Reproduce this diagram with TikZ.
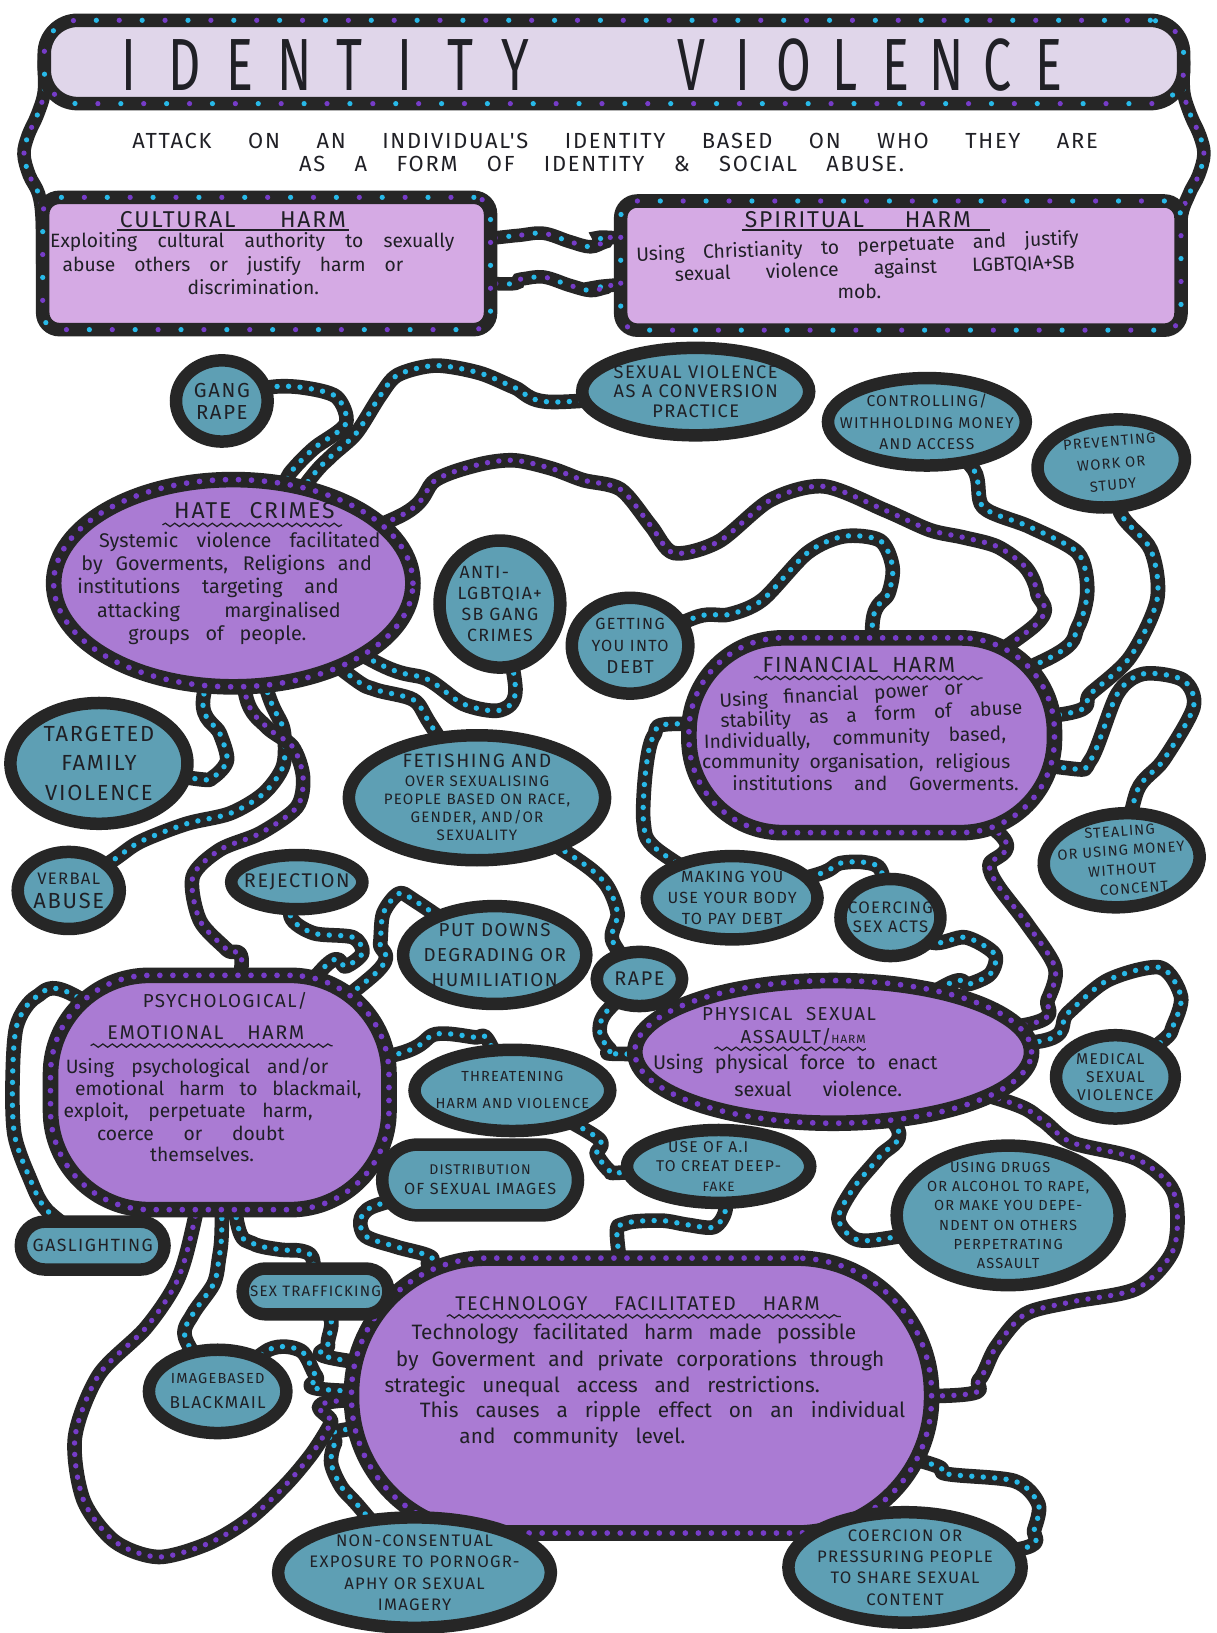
\documentclass[tikz,border=0pt]{standalone}
\usepackage{graphicx}
\usepackage{fontspec}
\setmainfont{Fira Sans}
\newfontfamily\capsf[LetterSpace=8]{Fira Sans}
\newfontfamily\tcapf{Fira Sans}
\newfontfamily\bodyf{Fira Sans}
\newfontfamily\subf[LetterSpace=8]{Fira Sans}
\usetikzlibrary{shapes.geometric,decorations.pathmorphing}
\pgfdeclarelayer{bg}
\pgfsetlayers{bg,main}
\definecolor{bfill}{RGB}{94,159,180}
\definecolor{pfill}{RGB}{170,123,211}
\definecolor{boxfill}{RGB}{213,170,228}
\definecolor{titlefill}{RGB}{224,214,234}
\definecolor{ink}{RGB}{38,38,38}
\definecolor{cdot}{RGB}{40,185,232}
\definecolor{pdot}{RGB}{118,60,200}
\definecolor{txt}{RGB}{32,32,38}
\newcounter{tlc}
\newcommand\bsz{16}
\newcommand\bodyln[5][0]{\stepcounter{tlc}\node[bline, rotate=#1] (bl\thetlc) at (#2,#3) {\makebox[#4pt][s]{#5}};}
\tikzset{
  cconn/.style={draw=ink, line width=14pt, line cap=round, line join=round,
    postaction={draw=cdot, line width=5.2pt, line cap=round, dash pattern=on 0pt off 11pt}},
  pconn/.style={draw=ink, line width=14pt, line cap=round, line join=round,
    postaction={draw=pdot, line width=5.2pt, line cap=round, dash pattern=on 0pt off 11pt}},
  mconn/.style={draw=ink, line width=13pt, line cap=round,
    postaction={draw=cdot, line width=5pt, line cap=round, dash pattern=on 0pt off 26pt},
    postaction={draw=pdot, line width=5pt, line cap=round, dash pattern=on 0pt off 26pt, dash phase=13pt}},
  mbox/.style={draw=ink, line width=13pt, inner sep=0pt,
    postaction={draw=cdot, line width=5pt, line cap=round, dash pattern=on 0pt off 44pt},
    postaction={draw=pdot, line width=5pt, line cap=round, dash pattern=on 0pt off 44pt, dash phase=22pt}},
  bnode/.style={draw=ink, line width=12pt, fill=bfill, inner sep=-80pt, align=center, text=txt},
  bell/.style={bnode, ellipse},
  brr/.style={bnode, rectangle},
  pnode/.style={draw=ink, line width=15pt, fill=pfill, inner sep=0pt,
    postaction={draw=pdot, line width=5.5pt, line cap=round, dash pattern=on 0pt off 12.5pt}},
  sz/.style 2 args={font=\capsf\fontsize{#1}{#2}\selectfont},
  wavy/.style={draw=txt, line width=1.2pt, decorate, decoration={snake, amplitude=1.6pt, segment length=9pt}},
  bline/.style={anchor=base west, inner sep=0pt, text=txt, font=\bodyf\fontsize{\bsz}{\bsz}\selectfont},
  tline/.style={anchor=base west, inner sep=0pt, text=txt, font=\capsf\fontsize{#1}{#1}\selectfont},
  ttl/.style={inner sep=0pt, text=txt, font=\tcapf\fontsize{71}{71}\selectfont},
}
\begin{document}
\begin{tikzpicture}[x=1pt,y=-1pt]
\useasboundingbox (0,0) rectangle (1168,1568);

% ---------- top boxes ----------
\node[mbox, fill=titlefill, rounded corners=32pt, minimum width=1094pt, minimum height=80pt] (title) at (589.5,59.5) {};
\node[mbox, fill=boxfill, rounded corners=16pt, minimum width=430pt, minimum height=127pt] (cult) at (256,253) {};
\node[mbox, fill=boxfill, rounded corners=16pt, minimum width=538pt, minimum height=124pt] (spirit) at (865,255) {};

\foreach \ch [count=\i from 0] in {I,D,E,N,T,I,T,Y}
  \node[ttl] (tA\i) at ({124+\i*53},62) {\scalebox{0.68}[1]{\ch}};
\foreach \ch [count=\i from 0] in {V,I,O,L,E,N,C,E}
  \node[ttl] (tB\i) at ({664+\i*49},62) {\scalebox{0.68}[1]{\ch}};

\node[anchor=base west, inner sep=0pt, text=txt, font=\subf\fontsize{21}{21}\selectfont] (sub1) at (127,143)
  {\makebox[927pt][s]{ATTACK ON AN INDIVIDUAL'S IDENTITY BASED ON WHO THEY ARE}};
\node[anchor=base west, inner sep=0pt, text=txt, font=\subf\fontsize{21}{21}\selectfont] (sub2) at (287,165)
  {\makebox[581pt][s]{AS A FORM OF IDENTITY \& SOCIAL ABUSE.}};

\node[tline=22] (ctit) at (115,218) {\makebox[217pt][s]{CULTURAL HARM}};
\draw[line width=1.3pt, draw=txt] ([yshift=-3pt,xshift=-3pt]ctit.base west) -- ([yshift=-3pt,xshift=3pt]ctit.base east);
\node[tline=22] (stit) at (715,218) {\makebox[217pt][s]{SPIRITUAL HARM}};
\draw[line width=1.3pt, draw=txt] ([yshift=-3pt,xshift=-3pt]stit.base west) -- ([yshift=-3pt,xshift=18pt]stit.base east);
\renewcommand\bsz{18.5}
\bodyln{48}{238}{388}{Exploiting cultural authority to sexually}
\bodyln{60}{261}{327}{abuse others or justify harm or}
\bodyln{180}{283}{125}{discrimination.}
\bodyln[2.2]{611}{251}{425}{Using Christianity to perpetuate and justify}
\bodyln[1.8]{648}{270}{384}{sexual violence against LGBTQIA+SB}
\bodyln{804}{287}{40}{mob.}

% ---------- purple nodes ----------
\node[pnode, ellipse, minimum width=345pt, minimum height=199pt] (hate) at (224,560) {};
\node[pnode, rectangle, rounded corners=90pt, minimum width=351pt, minimum height=187pt] (fin) at (837,706) {};
\node[pnode, rectangle, rounded corners=95pt, minimum width=325pt, minimum height=225pt] (psych) at (211,1049) {};
\node[pnode, ellipse, minimum width=381pt, minimum height=137pt] (phys) at (800,1010) {};
\node[pnode, rectangle, rounded corners=130pt, minimum width=557pt, minimum height=264pt] (tech) at (616,1340) {};

% ---------- blue nodes ----------
\node[bell, sz={19.5}{21}, minimum width=88pt, minimum height=78pt] (gang) at (213,385) {GANG\\RAPE};
\node[bell, sz={17.5}{19}, minimum width=218pt, minimum height=84pt] (conv) at (668,376) {SEXUAL VIOLENCE\\AS A CONVERSION\\PRACTICE};
\node[bell, sz={15}{21}, minimum width=190pt, minimum height=84pt] (ctrl) at (890,405) {CONTROLLING/\\WITHHOLDING MONEY\\AND ACCESS};
\node[bell, sz={14}{21}, minimum width=142pt, minimum height=84pt, rotate=5] (prev) at (1067,445) {PREVENTING\\WORK OR\\STUDY};
\node[bell, sz={17}{20}, minimum width=116pt, minimum height=122pt] (anti) at (480,580) {ANTI-\hspace*{30pt}\\LGBTQIA+\\SB GANG\\CRIMES};
\node[bell, sz={15.5}{21}, minimum width=112pt, minimum height=92pt] (debt) at (605,620) {GETTING\\YOU INTO\\{\fontsize{18}{18}\selectfont DEBT}};
\node[bell, sz={21}{28}, minimum width=170pt, minimum height=116pt] (targ) at (95,733) {TARGETED\\FAMILY\hspace*{20pt}\\VIOLENCE};
\node[bell, sz={14.5}{17.5}, minimum width=246pt, minimum height=120pt] (fet) at (458,766) {{\fontsize{18.5}{18.5}\selectfont FETISHING AND}\\OVER SEXUALISING\\PEOPLE BASED ON RACE,\\GENDER, AND/OR\\SEXUALITY};
\node[bell, sz={16}{23}, minimum width=98pt, minimum height=74pt] (verbal) at (66,855) {VERBAL\\{\fontsize{21}{21}\selectfont ABUSE}};
\node[bell, sz={19}{21}, minimum width=126pt, minimum height=52pt] (rej) at (285,847) {REJECTION};
\node[bell, sz={14}{18.5}, minimum width=150pt, minimum height=90pt, rotate=4] (steal) at (1077,826) {STEALING\\OR USING MONEY\\WITHOUT\hspace*{24pt}\\\hspace*{20pt}CONCENT};
\node[bell, sz={15.5}{20}, minimum width=164pt, minimum height=80pt] (making) at (703,862) {MAKING YOU\\USE YOUR BODY\\TO PAY DEBT};
\node[bell, sz={16}{18}, minimum width=96pt, minimum height=74pt] (coerce) at (855,881) {COERCING\\SEX ACTS};
\node[bell, sz={18}{24}, minimum width=176pt, minimum height=94pt] (put) at (475,917) {PUT DOWNS\\DEGRADING OR\\HUMILIATION};
\node[bell, sz={19}{21}, minimum width=82pt, minimum height=52pt] (rape) at (614,940) {RAPE};
\node[bell, sz={14}{26}, minimum width=188pt, minimum height=78pt] (threat) at (492,1047) {THREATENING\\HARM AND VIOLENCE};
\node[bell, sz={15}{17.5}, minimum width=114pt, minimum height=80pt] (medical) at (1071,1034) {MEDICAL\hspace*{10pt}\\SEXUAL\hspace*{10pt}\\VIOLENCE};
\node[brr, sz={15.5}{19}, rounded corners=34pt, minimum width=188pt, minimum height=68pt] (distr) at (461,1133) {{\fontsize{13.5}{13.5}\selectfont DISTRIBUTION}\\OF SEXUAL IMAGES};
\node[bell, sz={15}{18.5}, minimum width=176pt, minimum height=70pt] (ai) at (690,1120) {USE OF A.I\hspace*{20pt}\\TO CREAT DEEP-\\{\fontsize{13}{13}\selectfont FAKE}};
\node[bell, sz={14}{18.5}, minimum width=214pt, minimum height=134pt] (drugs) at (968,1167) {USING DRUGS\hspace*{15pt}\\OR ALCOHOL TO RAPE,\\OR MAKE YOU DEPE-\\NDENT ON OTHERS\\PERPETRATING\\ASSAULT};
\node[brr, sz={17}{19}, rounded corners=23pt, minimum width=138pt, minimum height=46pt] (gas) at (89,1196) {GASLIGHTING};
\node[brr, sz={14.5}{17}, rounded corners=22pt, minimum width=140pt, minimum height=44pt] (traff) at (303,1240) {SEX TRAFFICKING};
\node[bell, sz={16.5}{24}, minimum width=132pt, minimum height=80pt] (img) at (209,1336) {{\fontsize{14}{14}\selectfont IMAGEBASED}\\BLACKMAIL};
\node[bell, sz={16}{20.5}, minimum width=262pt, minimum height=106pt] (noncon) at (398,1510) {NON-CONSENTUAL\\EXPOSURE TO PORNOGR-\\APHY OR SEXUAL\hspace*{60pt}\\IMAGERY};
\node[bell, sz={16}{20.5}, minimum width=224pt, minimum height=106pt] (coerc2) at (869,1505) {COERCION OR\\PRESSURING PEOPLE\\TO SHARE SEXUAL\\CONTENT};

% ---------- purple node texts ----------
\node[tline=22] (htit) at (167,498) {\makebox[154pt][s]{HATE CRIMES}};
\draw[wavy] ([xshift=-11pt,yshift=-6pt]htit.base west) -- ([xshift=7pt,yshift=-6pt]htit.base east);
\renewcommand\bsz{19}
\bodyln{95}{526}{270}{Systemic violence facilitated}
\bodyln{78}{548}{279}{by Goverments, Religions and}
\bodyln{74}{570}{251}{institutions targeting and}
\bodyln{93}{593}{234}{attacking marginalised}
\bodyln{123}{615}{171}{groups of people.}

\node[tline=21] (ftit) at (732,646) {\makebox[185pt][s]{FINANCIAL HARM}};
\draw[wavy] ([xshift=-8pt,yshift=-5pt]ftit.base west) -- ([xshift=26pt,yshift=-5pt]ftit.base east);
\renewcommand\bsz{18.5}
\bodyln[3]{691}{679}{234}{Using financial power or}
\bodyln[2.6]{692}{699}{290}{stability as a form of abuse}
\bodyln[1.6]{676}{719}{290}{Individually, community based,}
\bodyln{674}{738}{296}{community organisation, religious}
\bodyln{703}{759}{275}{institutions and Goverments.}

\node[tline=18] (ptit1) at (137,967) {\makebox[163pt][s]{PSYCHOLOGICAL/}};
\node[tline=19] (ptit2) at (103,998) {\makebox[189pt][s]{EMOTIONAL HARM}};
\draw[wavy] ([xshift=-16pt,yshift=-6pt]ptit2.base west) -- ([xshift=27pt,yshift=-6pt]ptit2.base east);
\bodyln{63}{1031}{252}{Using psychological and/or}
\bodyln{72}{1052}{275}{emotional harm to blackmail,}
\bodyln{61}{1073}{239}{exploit, perpetuate harm,}
\bodyln{93}{1095}{180}{coerce or doubt}
\bodyln{144}{1115}{109}{themselves.}

\node[tline=18] (xtit1) at (674,980) {\makebox[167pt][s]{PHYSICAL SEXUAL}};
\node[tline=18] (xtit2) at (711,1002) {ASSAULT/{\fontsize{11.5}{11.5}\selectfont HARM}};
\draw[wavy] ([xshift=-25pt,yshift=-5pt]xtit2.base west) -- ([yshift=-5pt]xtit2.base east);
\renewcommand\bsz{19}
\bodyln{627}{1027}{273}{Using physical force to enact}
\bodyln{705}{1053}{161}{sexual violence.}

\node[tline=19] (ttit) at (437,1258) {\makebox[350pt][s]{TECHNOLOGY FACILITATED HARM}};
\draw[wavy] ([xshift=-8pt,yshift=-6pt]ttit.base west) -- ([xshift=20pt,yshift=-6pt]ttit.base east);
\renewcommand\bsz{20}
\bodyln{395}{1286}{427}{Technology facilitated harm made possible}
\bodyln{380}{1312}{469}{by Goverment and private corporations through}
\bodyln{369}{1337}{418}{strategic unequal access and restrictions.}
\bodyln{403}{1361}{466}{This causes a ripple effect on an individual}
\bodyln{441}{1386}{217}{and community level.}

% ---------- connectors ----------
\begin{pgfonlayer}{bg}
\fill[white] (0,0) rectangle (1168,1568);
\draw[mconn] plot[smooth, tension=0.6] coordinates {([xshift=6.5pt]title.west) (42.5,88) (36,110) (27,130) (23,148) (28,168) (37,186) (40.5,210) ([xshift=6.5pt]cult.west)};
\draw[mconn] plot[smooth, tension=0.6] coordinates {([xshift=-6.5pt]title.east) (1136.5,88) (1143,110) (1152,130) (1156,148) (1151,168) (1142,186) (1134,210) ([xshift=-6.5pt]spirit.east)};
\draw[mconn] plot[smooth, tension=0.6] coordinates {(cult.center) (470,229) (498,226) (522,224) (547,232) (567,237) (582,232) (600,229) (spirit.center)};
\draw[mconn] plot[smooth, tension=0.6] coordinates {(cult.center) (470,272) (500,268) (522,266) (547,274) (567,279) (582,276) (600,273) (spirit.center)};

\draw[cconn] plot[smooth] coordinates {(gang.center) (258,372) (290,372) (323,381) (332,407) (302,430) (282,450) (272,466) (hate.center)};
\draw[cconn] plot[smooth] coordinates {(hate.center) (296,462) (318,438) (342,416) (365,380) (382,360) (418,351) (460,358) (494,372) (530,386) (conv.center)};
\draw[cconn] plot[smooth] coordinates {(debt.center) (670,592) (700,590) (732,576) (775,531) (810,515) (845,519) (857,544) (853,570) (838,596) (fin.center)};
\draw[cconn] plot[smooth] coordinates {(ctrl.center) (935,451) (944,487) (989,506) (1035,531) (1044,567) (1035,602) (1009,631) (fin.center)};
\draw[cconn] plot[smooth] coordinates {(prev.center) (1076,493) (1105,528) (1111,576) (1085,631) (1047,666) (1025,685) (fin.center)};
\draw[cconn] plot[smooth] coordinates {(fin.center) (1020,737) (1047,730) (1073,666) (1098,647) (1136,653) (1146,679) (1117,730) (1092,759) (steal.center)};
\draw[cconn] plot[smooth] coordinates {(fin.center) (652,695) (628,706) (620,740) (618,790) (630,815) (making.center)};
\draw[cconn] plot[smooth] coordinates {(hate.center) (365,638) (410,652) (445,676) (480,682) (495,662) (anti.center)};
\draw[cconn] plot[smooth] coordinates {(hate.center) (335,648) (360,662) (397,672) (413,695) (fet.center)};
\draw[cconn] plot[smooth] coordinates {(hate.center) (195,672) (211,704) (218,730) (205,746) (190,748) (targ.center)};
\draw[cconn] plot[smooth] coordinates {(hate.center) (258,668) (272,700) (272,735) (253,762) (221,781) (179,791) (135,808) (110,825) (verbal.center)};
\draw[cconn] plot[smooth] coordinates {(rej.center) (279,880) (301,896) (339,900) (348,915) (332,928) (312,928) (psych.center)};
\draw[cconn] plot[smooth] coordinates {(put.center) (400,866) (383,858) (368,877) (365,906) (360,935) (psych.center)};
\draw[cconn] plot[smooth] coordinates {(psych.center) (382,1012) (418,993) (456,996) (468,998) (threat.center)};
\draw[cconn] plot[smooth] coordinates {(psych.center) (70,955) (35,957) (16,985) (12,1040) (14,1090) (28,1130) (45,1162) (gas.center)};
\draw[cconn] plot[smooth] coordinates {(psych.center) (213,1175) (210,1210) (205,1233) (185,1262) (178,1285) (img.center)};
\draw[cconn] plot[smooth] coordinates {(psych.center) (228,1175) (243,1194) (270,1200) (289,1201) (300,1208) (traff.center)};
\draw[cconn] plot[smooth] coordinates {(traff.center) (318,1268) (315,1292) (330,1306) (tech.center)};
\draw[cconn] plot[smooth] coordinates {(img.center) (258,1296) (289,1297) (304,1322) (322,1335) (tech.center)};
\draw[cconn] plot[smooth] coordinates {(tech.center) (336,1372) (322,1385) (318,1405) (328,1428) (345,1447) (noncon.center)};
\draw[cconn] plot[smooth] coordinates {(distr.center) (357,1159) (349,1185) (380,1197) (414,1207) (425,1226) (tech.center)};
\draw[cconn] plot[smooth] coordinates {(ai.center) (697,1159) (686,1178) (660,1176) (635,1172) (600,1175) (593,1194) (tech.center)};
\draw[cconn] plot[smooth] coordinates {(phys.center) (862,1084) (845,1110) (820,1140) (805,1170) (822,1190) (858,1188) (drugs.center)};
\draw[cconn] plot[smooth] coordinates {(phys.center) (998,1000) (1025,973) (1064,941) (1114,929) (1134,957) (1126,986) (1118,998) (medical.center)};
\draw[cconn] plot[smooth] coordinates {(coerce.center) (895,905) (927,900) (955,916) (951,935) (930,945) (910,945) (phys.center)};
\draw[cconn] plot[smooth] coordinates {(making.center) (787,839) (806,829) (830,828) (846,836) (coerce.center)};
\draw[cconn] plot[smooth] coordinates {(fet.center) (551,823) (581,848) (593,877) (588,903) (rape.center)};
\draw[cconn] plot[smooth] coordinates {(rape.center) (581,973) (576,992) (586,1008) (600,1012) (phys.center)};
\draw[cconn] plot[smooth] coordinates {(threat.center) (573,1092) (573,1108) (585,1124) (596,1126) (ai.center)};
\draw[cconn] plot[smooth] coordinates {(tech.center) (881,1402) (908,1415) (974,1422) (997,1444) (993,1469) (985,1486) (coerc2.center)};

\draw[pconn] plot[smooth] coordinates {(hate.center) (385,495) (418,461) (460,446) (494,442) (530,450) (560,461) (596,470) (625,505) (647,531) (690,520) (740,480) (791,467) (850,490) (893,509) (925,516) (958,525) (985,545) (996,570) (992,602) (fin.center)};
\draw[pconn] plot[smooth] coordinates {(hate.center) (236,668) (256,698) (281,717) (291,746) (285,775) (250,800) (211,816) (185,842) (192,884) (218,912) (232,926) (psych.center)};
\draw[pconn] plot[smooth] coordinates {(psych.center) (186,1175) (170,1230) (140,1275) (95,1320) (72,1380) (80,1440) (110,1480) (152,1495) (200,1482) (240,1458) (275,1425) (300,1395) (318,1366) (326,1345) (tech.center)};
\draw[pconn] plot[smooth] coordinates {(phys.center) (965,1057) (1000,1075) (1029,1097) (1092,1113) (1127,1145) (1127,1199) (1092,1237) (1029,1250) (984,1262) (956,1294) (940,1325) (912,1340) (tech.center)};
\draw[pconn] plot[smooth] coordinates {(fin.center) (962,803) (950,830) (958,850) (986,887) (1013,929) (1006,960) (990,983) (phys.center)};
\end{pgfonlayer}
\end{tikzpicture}
\end{document}
